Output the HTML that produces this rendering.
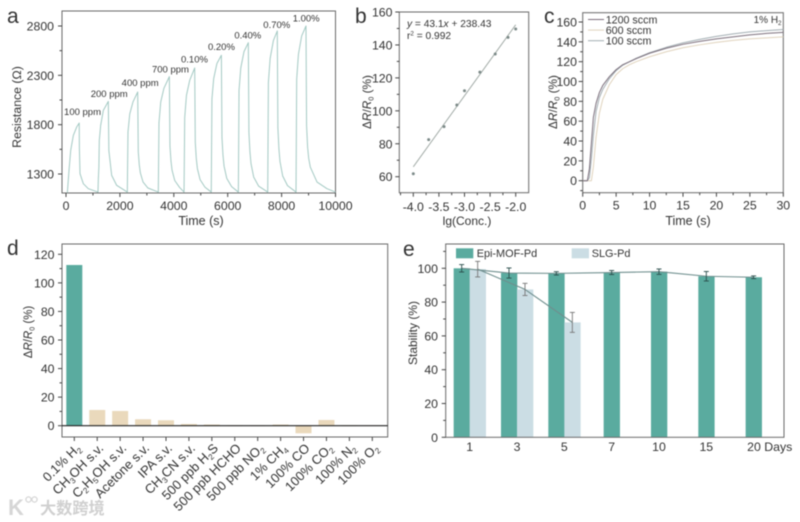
<!DOCTYPE html>
<html lang="en">
<head>
<meta charset="utf-8">
<title>Hydrogen sensor performance panels</title>
<style>
html,body{margin:0;padding:0;background:#fff;width:800px;height:522px;overflow:hidden}
svg{display:block;filter:blur(0.4px)}
text{font-family:"Liberation Sans","Noto Sans CJK SC",sans-serif;fill:#333}
</style>
</head>
<body>
<svg id="figure" xmlns="http://www.w3.org/2000/svg" width="800" height="522" viewBox="0 0 800 522"></svg>
<script>
// ---- Panel a: resistance over time ----
const aTime = [50,110,174,272,396,490,497,520,643,828,1187,
  1200,1220,1236,1286,1385,1570,1590,1695,1880,2275,
  2300,2365,2485,2660,2682,2720,2760,2860,3040,3425,
  3450,3515,3635,3835,3857,3895,3935,4035,4215,4380,
  4405,4470,4590,4775,4797,4835,4875,4975,5155,5390,
  5415,5480,5600,5765,5787,5825,5865,5965,6145,6395,
  6420,6485,6605,6765,6787,6825,6865,6965,7145,7485,
  7510,7575,7695,7840,7862,7900,7940,8040,8220,8535,
  8560,8625,8745,8905,8927,8965,9005,9065,9315,9685,10000];
const aResistance = [1110,1330,1539,1691,1776,1817,1560,1303,1202,1151,1117,
  1250,1370,1641,1793,1945,2036,1539,1286,1185,1117,
  1725,1908,2030,2131,1523,1391,1310,1218,1158,1117,
  1819,2030,2170,2287,1585,1433,1339,1234,1164,1117,
  1872,2098,2249,2375,1620,1457,1356,1243,1167,1117,
  2059,2267,2420,2503,1671,1491,1380,1256,1172,1117,
  2147,2374,2540,2631,1723,1526,1405,1268,1178,1117,
  2227,2472,2652,2750,1770,1558,1427,1280,1182,1117,
  2261,2514,2699,2800,1790,1571,1460,1370,1218,1151,1117];
const aXTicks = [0,2000,4000,6000,8000,10000];
const aXMinor = [1000,3000,5000,7000,9000];
const aYTicks = [1300,1800,2300,2800];
const aYMinor = [1550,2050,2550];
const aPeakLabels = ["100 ppm","200 ppm","400 ppm","700 ppm","0.10%","0.20%","0.40%","0.70%","1.00%"];
const aPeakTimes = [495,1570,2660,3835,4775,5765,6765,7840,8905];
const aPeakValues = [1817,2036,2131,2287,2375,2503,2631,2750,2800];

// ---- Panel b: response vs log concentration ----
const bConc = [-4,-3.7,-3.4,-3.15,-3,-2.7,-2.4,-2.15,-2];
const bResponse = [61.8,82.5,90.4,103.5,112.2,123.5,134.5,144.6,149.7];
const bSlope = 43.1;
const bIntercept = 238.43;
const bFitRange = [-4,-2];
const bXTicks = [-4,-3.5,-3,-2.5,-2];
const bXMinor = [-4.25,-3.75,-3.25,-2.75,-2.25];
const bYTicks = [60,80,100,120,140,160];
const bYMinor = [70,90,110,130,150];

// ---- Panel c: response at three flow rates ----
const cTime = [0,0.7,1,1.3,1.6,2,2.5,3,4,5,6,7,8,10,12.5,15,17.5,20,22.5,25,27.5,30];
const c1200 = [0,0,12,38,64,78,89,96,105,112,117,120,123,128.5,133.5,137.5,140.5,143,145,147,148.5,149.6];
const c600 = [0,0,0,0,14,44,68,82,97,107,113,117,120,125,130,134,137,139.5,141.5,143,144,145];
const c100 = [0,0,3,22,46,70,84,92,103,111,116.5,120,123.5,129,134.5,139,142.5,145.5,148,150,151.3,152.5];
const cXTicks = [0,5,10,15,20,25,30];
const cXMinor = [2.5,7.5,12.5,17.5,22.5,27.5];
const cYTicks = [0,20,40,60,80,100,120,140,160];
const cYMinor = [-10,10,30,50,70,90,110,130,150];
const cLegend = ["1200 sccm","600 sccm","100 sccm"];

// ---- Panel d: selectivity ----
const dCategories = ["0.1% H_2","CH_3OH s.v.","C_2H_5OH s.v.","Acetone s.v.","IPA s.v.","CH_3CN s.v.","500 ppb H_2S","500 ppb HCHO","500 ppb NO_2","1% CH_4","100% CO","100% CO_2","100% N_2","100% O_2"];
const dValues = [112.5,11,10.3,4.5,3.8,1.2,0.8,0.3,0.3,0.8,-5.3,4,0.3,0.2];
const dYTicks = [0,20,40,60,80,100,120];
const dYMinor = [10,30,50,70,90,110];

// ---- Panel e: stability ----
const eDays = ["1","3","5","7","10","15","20 Days"];
const eEpi = [100,97.2,97,97.5,98,95.3,94.7];
const eEpiErr = [2.2,3,1,1.2,1.6,2.8,0.8];
const eSlg = [99.5,87.5,68];
const eSlgErr = [4.6,3.6,5.9];
const eYTicks = [0,20,40,60,80,100];
const eYMinor = [10,30,50,70,90,110];

const NS = "http://www.w3.org/2000/svg";
const root = document.getElementById("figure");

function lin(d0, d1, p0, p1) {
  return v => p0 + (v - d0) * (p1 - p0) / (d1 - d0);
}
function mk(tag, name, props, parent) {
  const el = document.createElementNS(NS, tag);
  
  
  for (const k in props) el.setAttribute(k, props[k]);
  (parent || root).appendChild(el);
  return el;
}
// small markup: _x subscript, ^x superscript, *x* italic
function rich(el, str) {
  const size = parseFloat(el.getAttribute("font-size"));
  const parts = str.split(/(_.|\^.|\*[^*]+\*)/).filter(s => s !== "");
  let shift = 0;
  parts.forEach(p => {
    const t = document.createElementNS(NS, "tspan");
    let target = 0;
    if (p[0] === "_") { target = size * 0.22; t.setAttribute("font-size", size * 0.62); t.textContent = p.slice(1); }
    else if (p[0] === "^") { target = -size * 0.35; t.setAttribute("font-size", size * 0.62); t.textContent = p.slice(1); }
    else if (p[0] === "*") { t.setAttribute("font-style", "italic"); t.textContent = p.slice(1, -1); }
    else { t.textContent = p; }
    if (target !== shift) t.setAttribute("dy", target - shift);
    shift = target;
    el.appendChild(t);
  });
  return el;
}
function label(name, str, x, y, size, anchor, rot, parent) {
  const props = { x: x, y: y, "font-size": size, "text-anchor": anchor || "start" };
  if (rot) props.transform = "rotate(" + rot + " " + x + " " + y + ")";
  return rich(mk("text", name, props, parent), str);
}
function frame(name, x0, y0, x1, y1, parent) {
  mk("rect", name + "-frame", { x: x0, y: y0, width: x1 - x0, height: y1 - y0, fill: "none", stroke: "#6a6a6a", "stroke-width": 1 }, parent);
}
function xTicks(name, vals, sx, y, len, parent) {
  vals.forEach(v => {
    mk("line", name, { x1: sx(v), x2: sx(v), y1: y, y2: y + len, stroke: "#444", "stroke-width": 1 }, parent);
  });
}
function yTicks(name, vals, sy, x, len, parent) {
  vals.forEach(v => {
    mk("line", name, { x1: x, x2: x - len, y1: sy(v), y2: sy(v), stroke: "#444", "stroke-width": 1 }, parent);
  });
}
function path(name, xs, ys, sx, sy, color, w, parent) {
  const pts = xs.map((v, i) => sx(v).toFixed(2) + "," + sy(ys[i]).toFixed(2)).join(" ");
  return mk("polyline", name, { points: pts, fill: "none", stroke: color, "stroke-width": w, "stroke-linejoin": "round" }, parent);
}

// ===== Panel a =====
(function () {
  const g = mk("g", "resistance-chart", {});
  const sx = lin(0, 10000, 66, 335.5), sy = lin(1300, 2800, 174, 26);
  label("panel-label-a", "a", 7, 23, 21, "start", 0, g);
  frame("resistance-plot", 62, 11, 335.5, 193, g);
  path("resistance-curve", aTime, aResistance, sx, sy, "#a3c9c3", 1, g);
  xTicks("x-major-tick", aXTicks, sx, 193, 4, g);
  xTicks("x-minor-tick", aXMinor, sx, 193, 2.5, g);
  yTicks("y-major-tick", aYTicks, sy, 62, 4, g);
  yTicks("y-minor-tick", aYMinor, sy, 62, 2.5, g);
  aXTicks.forEach(v => label("x-tick-label", String(v), sx(v), 210, 12.3, "middle", 0, g));
  aYTicks.forEach(v => label("y-tick-label", String(v), 54, sy(v) + 4.5, 12.3, "end", 0, g));
  const labelDx = [-15.3,-17.6,-16,-17.4,-13.7,-13.4,-14,-14,-13.3];
  const labelDy = [-8,-4.4,-6,-3.9,-5.2,-5.3,-4.4,-3,-4.3];
  aPeakLabels.forEach((s, i) => {
    label("peak-label", s, sx(aPeakTimes[i]) + labelDx[i], sy(aPeakValues[i]) + labelDy[i], 9.5, "start", 0, g);
  });
  label("x-axis-title", "Time (s)", 201, 225, 12.5, "middle", 0, g);
  label("y-axis-title", "Resistance (Ω)", 21, 107, 12.3, "middle", -90, g);
})();

// ===== Panel b =====
(function () {
  const g = mk("g", "response-fit-chart", {});
  const sx = lin(-4, -2, 413.3, 515.7), sy = lin(60, 160, 176.7, 12);
  label("panel-label-b", "b", 355, 23, 21, "start", 0, g);
  frame("fit-plot", 399.3, 12, 528.7, 192.7, g);
  const fitY = bFitRange.map(x => bSlope * x + bIntercept);
  path("fit-line", bFitRange, fitY, sx, sy, "#a3aca8", 1, g);
  bConc.forEach((x, i) => {
    mk("circle", "data-point", { cx: sx(x), cy: sy(bResponse[i]), r: 1.5, fill: "#7c8a88" }, g);
  });
  xTicks("x-major-tick", bXTicks, sx, 192.7, 4, g);
  xTicks("x-minor-tick", bXMinor, sx, 192.7, 2.5, g);
  yTicks("y-major-tick", bYTicks, sy, 399.3, 4, g);
  yTicks("y-minor-tick", bYMinor, sy, 399.3, 2.5, g);
  bXTicks.forEach(v => label("x-tick-label", v.toFixed(1), sx(v), 211, 12.3, "middle", 0, g));
  bYTicks.forEach(v => label("y-tick-label", String(v), 392.5, sy(v) + 4.5, 12.3, "end", 0, g));
  label("fit-equation", "*y* = 43.1*x* + 238.43", 407, 27, 10.2, "start", 0, g);
  label("fit-r-squared", "r^2 = 0.992", 407, 39, 10.2, "start", 0, g);
  label("x-axis-title", "lg(Conc.)", 467, 225, 12, "middle", 0, g);
  label("y-axis-title", "Δ*R*/*R*_0 (%)", 371, 102, 11.8, "middle", -90, g);
})();

// ===== Panel c =====
(function () {
  const g = mk("g", "flow-rate-chart", {});
  const sx = lin(0, 30, 582.7, 783.3), sy = lin(0, 160, 180.7, 22);
  label("panel-label-c", "c", 544, 23, 21, "start", 0, g);
  frame("flow-plot", 582.7, 12.7, 783.3, 192.7, g);
  path("curve-600-sccm", cTime, c600, sx, sy, "#e0d3bd", 1, g);
  path("curve-100-sccm", cTime, c100, sx, sy, "#a3aeb3", 1, g);
  path("curve-1200-sccm", cTime, c1200, sx, sy, "#7d707d", 1, g);
  const legendColors = ["#7d707d", "#e0d3bd", "#a3aeb3"];
  cLegend.forEach((s, i) => {
    const y = 19.5 + i * 10.6;
    mk("line", "legend-line", { x1: 588, x2: 604, y1: y, y2: y, stroke: legendColors[i], "stroke-width": 1 }, g);
    label("legend-entry", s, 605.7, y + 3.8, 10.7, "start", 0, g);
  });
  label("gas-label", "1% H_2", 781.5, 23, 10, "end", 0, g);
  xTicks("x-major-tick", cXTicks, sx, 192.7, 4, g);
  xTicks("x-minor-tick", cXMinor, sx, 192.7, 2.5, g);
  yTicks("y-major-tick", cYTicks, sy, 582.7, 4, g);
  yTicks("y-minor-tick", cYMinor, sy, 582.7, 2.5, g);
  cXTicks.forEach(v => label("x-tick-label", String(v), sx(v), 209.5, 12.3, "middle", 0, g));
  cYTicks.forEach(v => label("y-tick-label", String(v), 577, sy(v) + 4.5, 12.3, "end", 0, g));
  label("x-axis-title", "Time (s)", 688, 225, 12.5, "middle", 0, g);
  label("y-axis-title", "Δ*R*/*R*_0 (%)", 557, 102, 11.8, "middle", -90, g);
})();

// ===== Panel d =====
(function () {
  const g = mk("g", "selectivity-chart", {});
  const sy = lin(0, 120, 425.7, 254.3);
  const sx = i => 74.3 + i * (372.3 - 74.3) / (dCategories.length - 1);
  label("panel-label-d", "d", 7, 255, 21, "start", 0, g);
  dValues.forEach((v, i) => {
    const top = Math.min(sy(v), sy(0));
    const h = Math.abs(sy(v) - sy(0));
    mk("rect", "bar-" + i, { x: sx(i) - 8, y: top, width: 16, height: h, fill: i === 0 ? "#5aab9f" : "#ead9bc" }, g);
  });
  frame("selectivity-plot", 62, 244, 387.7, 437, g);
  mk("line", "zero-line", { x1: 62, x2: 387.7, y1: sy(0), y2: sy(0), stroke: "#222", "stroke-width": 1.1 }, g);
  yTicks("y-major-tick", dYTicks, sy, 62, 4, g);
  yTicks("y-minor-tick", dYMinor, sy, 62, 2.5, g);
  dCategories.forEach((c, i) => {
    mk("line", "x-tick", { x1: sx(i), x2: sx(i), y1: 437, y2: 441, stroke: "#444", "stroke-width": 1 }, g);
    label("category-label", c, sx(i) + 7, 449, 13, "end", -45, g);
  });
  dYTicks.forEach(v => label("y-tick-label", String(v), 54.5, sy(v) + 4.5, 12.3, "end", 0, g));
  label("y-axis-title", "Δ*R*/*R*_0 (%)", 32, 332, 11.5, "middle", -90, g);
})();

// ===== Panel e =====
(function () {
  const g = mk("g", "stability-chart", {});
  const sy = lin(0, 100, 437.3, 268.3);
  const cx = i => 469.67 + i * 47.33;
  const epiX = i => i < eSlg.length ? cx(i) - 8 : cx(i);
  const slgX = i => cx(i) + 8;
  label("panel-label-e", "e", 403, 256, 21, "start", 0, g);
  eEpi.forEach((v, i) => {
    mk("rect", "epi-bar-" + i, { x: epiX(i) - 8, y: sy(v), width: 16.3, height: sy(0) - sy(v), fill: "#5aab9f" }, g);
  });
  eSlg.forEach((v, i) => {
    mk("rect", "slg-bar-" + i, { x: slgX(i) - 8, y: sy(v), width: 16.3, height: sy(0) - sy(v), fill: "#cbdde4" }, g);
  });
  frame("stability-plot", 445.7, 244, 784, 437.3, g);
  path("epi-trend-line", eEpi.map((v, i) => epiX(i)), eEpi, x => x, sy, "#6f8f8e", 1.1, g);
  path("slg-trend-line", eSlg.map((v, i) => slgX(i)), eSlg, x => x, sy, "#6f8f8e", 1.1, g);
  function err(name, x, v, e, color, cap) {
    mk("line", name, { x1: x, x2: x, y1: sy(v - e), y2: sy(v + e), stroke: color, "stroke-width": 0.9 }, g);
    mk("line", name + "-cap-top", { x1: x - cap, x2: x + cap, y1: sy(v + e), y2: sy(v + e), stroke: color, "stroke-width": 0.9 }, g);
    mk("line", name + "-cap-bottom", { x1: x - cap, x2: x + cap, y1: sy(v - e), y2: sy(v - e), stroke: color, "stroke-width": 0.9 }, g);
  }
  eEpi.forEach((v, i) => err("epi-error-bar", epiX(i), v, eEpiErr[i], "#2a4d4b", 2.5));
  eSlg.forEach((v, i) => err("slg-error-bar", slgX(i), v, eSlgErr[i], "#777", 2.5));
  yTicks("y-major-tick", eYTicks, sy, 445.7, 4, g);
  yTicks("y-minor-tick", eYMinor, sy, 445.7, 2.5, g);
  eYTicks.forEach(v => label("y-tick-label", String(v), 438, sy(v) + 4.5, 12.3, "end", 0, g));
  eDays.forEach((d, i) => {
    if (d.indexOf(" ") > 0) label("x-tick-label", d, cx(i) - 6.5, 451, 12.3, "start", 0, g);
    else label("x-tick-label", d, cx(i), 451, 12.3, "middle", 0, g);
  });
  mk("rect", "legend-swatch-epi", { x: 456, y: 248.3, width: 17.3, height: 10, fill: "#5aab9f" }, g);
  label("legend-entry-epi", "Epi-MOF-Pd", 476.7, 257, 10.9, "start", 0, g);
  mk("rect", "legend-swatch-slg", { x: 571.7, y: 248.3, width: 17.3, height: 10, fill: "#cbdde4" }, g);
  label("legend-entry-slg", "SLG-Pd", 591.7, 257, 10.9, "start", 0, g);
  label("y-axis-title", "Stability (%)", 417, 333, 12, "middle", -90, g);
})();

// ===== Watermark =====
(function () {
  const g = mk("g", "watermark", {});
  const wm = label("watermark-logo-letter", "K", 8, 515, 22, "start", 0, g);
  wm.style.fill = "#d6d6d6";
  wm.style.fontWeight = "bold";
  mk("circle", "watermark-logo-ring", { cx: 28.5, cy: 499.5, r: 2.6, fill: "none", stroke: "#d6d6d6", "stroke-width": 1.3 }, g);
  mk("circle", "watermark-logo-ring", { cx: 34.5, cy: 499.5, r: 2.6, fill: "none", stroke: "#d6d6d6", "stroke-width": 1.3 }, g);
  const wt = label("watermark-text", "大数跨境", 40, 514, 16.2, "start", 0, g);
  wt.style.fill = "#d0d0d0";
  wt.style.fontWeight = "bold";
})();
</script>
</body>
</html>
